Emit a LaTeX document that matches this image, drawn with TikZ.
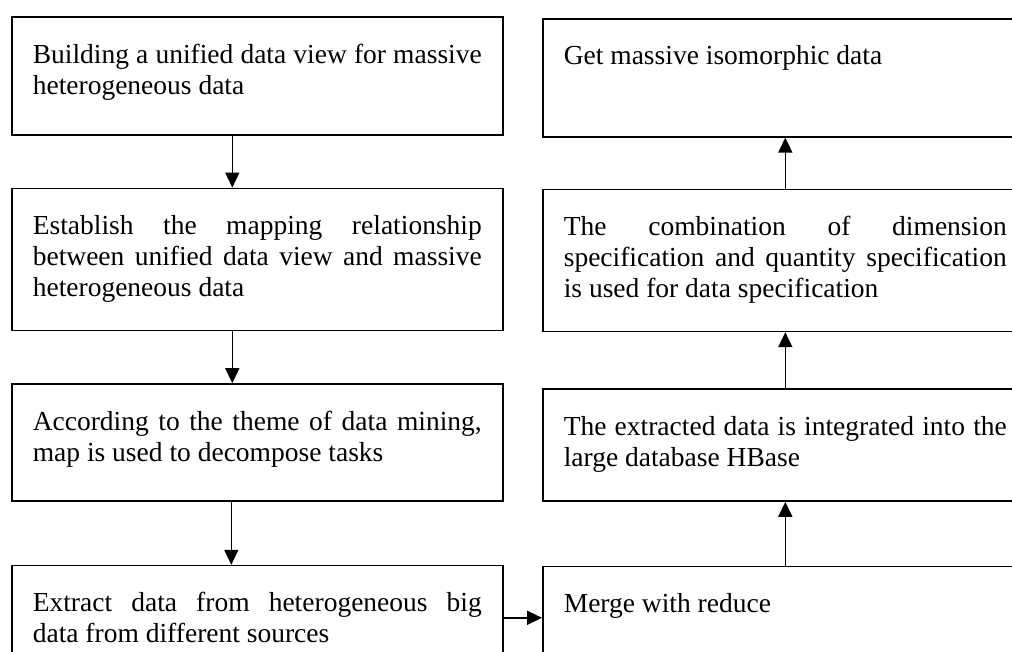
\documentclass[tikz,border=0pt]{standalone}
\usepackage{fontspec}
\setmainfont{Liberation Serif}
\usetikzlibrary{arrows.meta,positioning}
\newcommand{\flowtext}[3]{\parbox[t][#2][t]{#1}{\hyphenpenalty=10000\exhyphenpenalty=10000\tolerance=9999 #3}}

\begin{document}
\begin{tikzpicture}[
  x=1pt, y=-1pt,
  stepbox/.style={draw, line width=1.6pt, inner xsep=21pt, inner ysep=27pt, font=\fontsize{27.5pt}{31pt}\selectfont},
  arrow/.style={-{Triangle[length=15pt,width=14pt]}, line width=1.5pt}
]
  \path[fill=white, use as bounding box] (0,0) rectangle (1012,652);
  \clip (0,0) rectangle (1012,652);
  \node[stepbox, anchor=north west] (l1) at (11,16) {\flowtext{449pt}{64pt}{Building a unified data view for massive heterogeneous data}};
  \node[stepbox, below=52pt of l1] (l2) {\flowtext{449pt}{88pt}{Establish the mapping relationship between unified data view and massive heterogeneous data}};
  \node[stepbox, below=52pt of l2] (l3) {\flowtext{449pt}{63pt}{According to the theme of data mining, map is used to decompose tasks}};
  \node[stepbox, below=63pt of l3] (l4) {\flowtext{449pt}{66pt}{Extract data from heterogeneous big\linebreak data from different sources}};
  \node[stepbox, anchor=north west] (r1) at (542,18) {\flowtext{443pt}{64pt}{Get massive isomorphic data}};
  \node[stepbox, below=51pt of r1] (r2) {\flowtext{443pt}{88pt}{The combination of dimension specification and quantity specification is used for data specification}};
  \node[stepbox, below=56pt of r2] (r3) {\flowtext{443pt}{58pt}{The extracted data is integrated into the large database HBase}};
  \node[stepbox, below=64pt of r3] (r4) {\flowtext{443pt}{66pt}{Merge with reduce}};
  \draw[arrow] ([xshift=-25pt]l1.south) -- ([xshift=-25pt]l2.north);
  \draw[arrow] ([xshift=-25pt]l2.south) -- ([xshift=-25pt]l3.north);
  \draw[arrow] ([xshift=-26pt]l3.south) -- ([xshift=-26pt]l4.north);
  \draw[arrow] ([yshift=-53pt]l4.north east) -- ([yshift=-53pt]l4.north east -| r4.west);
  \draw[arrow] (r4) -- (r3);
  \draw[arrow] (r3) -- (r2);
  \draw[arrow] (r2) -- (r1);
\end{tikzpicture}
\end{document}
